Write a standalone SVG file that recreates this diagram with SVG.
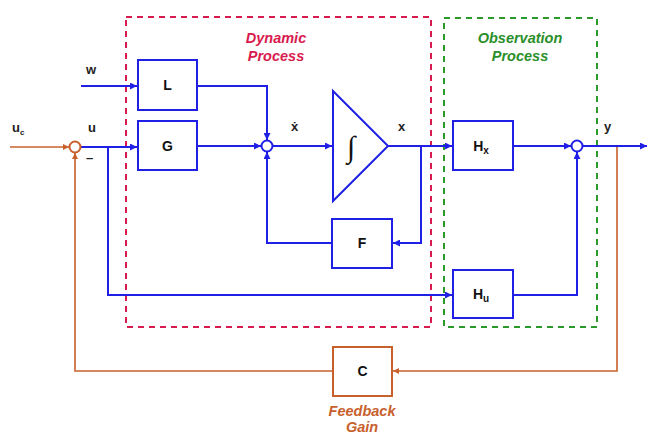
<svg xmlns="http://www.w3.org/2000/svg" width="647" height="434" viewBox="0 0 647 434">
<defs>
<style>
.bl{fill:none;stroke:#1f1fe6;stroke-width:2}
.or{fill:none;stroke:#c8602c;stroke-width:1.6}
.box{fill:#fff;stroke:#1f1fe6;stroke-width:2}
.obox{fill:#fff;stroke:#c8602c;stroke-width:2}
.sum{fill:#fff;stroke:#1f1fe6;stroke-width:2}
.osum{fill:#fff;stroke:#c8602c;stroke-width:2}
.lbl{font-family:"Liberation Sans",Arial,sans-serif;font-weight:bold;font-size:14px;fill:#111;text-anchor:middle}
.sig{font-family:"Liberation Sans",Arial,sans-serif;font-weight:bold;font-size:13px;fill:#222}
.ttl{font-family:"Liberation Sans",Arial,sans-serif;font-weight:bold;font-style:italic;font-size:14.5px;text-anchor:middle}
.red{fill:none;stroke:#d81b4e;stroke-width:2;stroke-dasharray:6 5}
.grn{fill:none;stroke:#2a9a2a;stroke-width:2;stroke-dasharray:6 5}
</style>
<marker id="ab" viewBox="0 0 10 10" refX="10" refY="5" markerWidth="9" markerHeight="7" markerUnits="userSpaceOnUse" orient="auto"><path d="M0,0L10,5L0,10z" fill="#1f1fe6"/></marker>
<marker id="ao" viewBox="0 0 10 10" refX="10" refY="5" markerWidth="8" markerHeight="6" markerUnits="userSpaceOnUse" orient="auto"><path d="M0,0L10,5L0,10z" fill="#c8602c"/></marker>
</defs>
<rect width="647" height="434" fill="#fff"/>

<g id="dynamic-process">
<rect class="red" x="126" y="17" width="305" height="310"/>
<text class="ttl" x="276" y="43" fill="#d81b4e">Dynamic</text>
<text class="ttl" x="276" y="61" fill="#d81b4e">Process</text>
</g>
<g id="observation-process">
<rect class="grn" x="444" y="18" width="153" height="309"/>
<text class="ttl" x="520" y="43" fill="#2a8f2a">Observation</text>
<text class="ttl" x="520" y="61" fill="#2a8f2a">Process</text>
</g>

<g id="connectors">
<path class="or" d="M10,147H69" marker-end="url(#ao)"/>
<path class="or" d="M617,146V371H393" marker-end="url(#ao)"/>
<path class="or" d="M333,371H75V153" marker-end="url(#ao)"/>
<path class="bl" d="M81,86H137" marker-end="url(#ab)"/>
<path class="bl" d="M80,147H137" marker-end="url(#ab)"/>
<path class="bl" d="M108,147V295H452" marker-end="url(#ab)"/>
<path class="bl" d="M197,86H267V140" marker-end="url(#ab)"/>
<path class="bl" d="M197,146H261" marker-end="url(#ab)"/>
<path class="bl" d="M273,146H332" marker-end="url(#ab)"/>
<path class="bl" d="M388,146H452" marker-end="url(#ab)"/>
<path class="bl" d="M421,146V243H393" marker-end="url(#ab)"/>
<path class="bl" d="M332,243H267V152" marker-end="url(#ab)"/>
<path class="bl" d="M513,146H571" marker-end="url(#ab)"/>
<path class="bl" d="M513,295H577V152" marker-end="url(#ab)"/>
<path class="bl" d="M583,146H647" marker-end="url(#ab)"/>
</g>

<g id="sum-input"><circle class="osum" cx="75" cy="147" r="5.5"/></g>
<g id="sum-state"><circle class="sum" cx="267" cy="146" r="5.5"/></g>
<g id="sum-output"><circle class="sum" cx="577" cy="146" r="5.5"/></g>

<g id="block-L"><rect class="box" x="138" y="60" width="59" height="50"/><text class="lbl" x="167.5" y="90">L</text></g>
<g id="block-G"><rect class="box" x="138" y="121" width="59" height="49"/><text class="lbl" x="167.5" y="151">G</text></g>
<g id="integrator"><path class="box" d="M333,91L388,146L333,201Z"/><text x="351" y="157" font-family="'Liberation Serif',serif" font-size="30" fill="#111" text-anchor="middle">∫</text></g>
<g id="block-F"><rect class="box" x="332" y="219" width="60" height="49"/><text class="lbl" x="362" y="248">F</text></g>
<g id="block-Hx"><rect class="box" x="453" y="121" width="60" height="49"/><text class="lbl" x="481" y="151">H<tspan font-size="10" dy="3">x</tspan></text></g>
<g id="block-Hu"><rect class="box" x="453" y="270" width="60" height="48"/><text class="lbl" x="481" y="299">H<tspan font-size="10" dy="3">u</tspan></text></g>
<g id="block-C"><rect class="obox" x="333" y="347" width="59" height="49"/><text class="lbl" x="362.5" y="376">C</text>
<text class="ttl" x="362" y="416" fill="#c8602c">Feedback</text>
<text class="ttl" x="362" y="432" fill="#c8602c">Gain</text></g>

<g id="labels">
<text class="sig" x="86" y="74">w</text>
<text class="sig" x="12" y="132">u<tspan font-size="8" dy="3">c</tspan></text>
<text class="sig" x="88" y="132">u</text>
<text class="sig" x="86" y="162" fill="#c8602c">–</text>
<text class="sig" x="291" y="131">ẋ</text>
<text class="sig" x="398" y="131">x</text>
<text class="sig" x="604" y="131">y</text>
</g>
</svg>
